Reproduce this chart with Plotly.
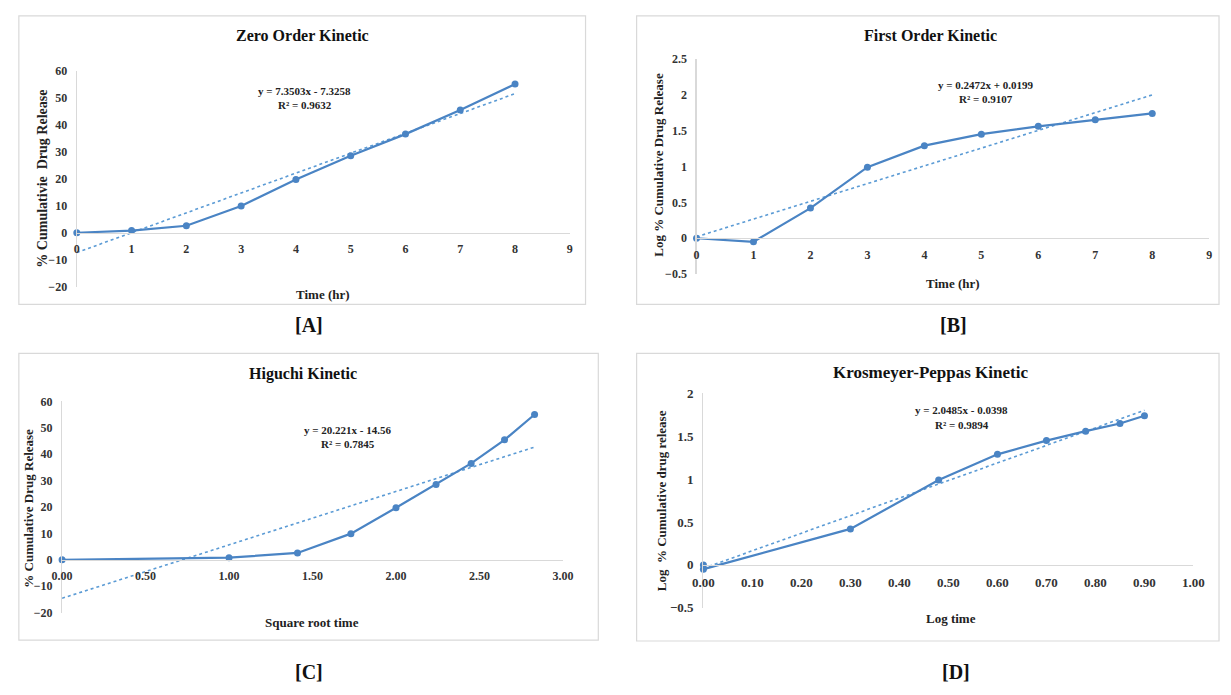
import plotly.graph_objects as go

# ---------------- data ----------------
time_hr = [0, 1, 2, 3, 4, 5, 6, 7, 8]
zero_order_release = [0.0, 0.8, 2.6, 9.9, 19.7, 28.5, 36.5, 45.4, 55.0]
first_order_log_release = [0.0, -0.05, 0.42, 0.99, 1.29, 1.45, 1.56, 1.65, 1.74]
sqrt_time = [0.00, 1.00, 1.41, 1.73, 2.00, 2.24, 2.45, 2.65, 2.83]
higuchi_release = [0.0, 0.8, 2.6, 9.9, 19.7, 28.5, 36.5, 45.4, 55.0]
log_time = [0.00, 0.00, 0.30, 0.48, 0.60, 0.70, 0.78, 0.85, 0.90]
kp_log_release = [0.0, -0.05, 0.42, 0.99, 1.29, 1.45, 1.56, 1.65, 1.74]

trend_slope = [7.3503, 0.2472, 20.221, 2.0485]
trend_intercept = [-7.3258, 0.0199, -14.56, -0.0398]
trend_eq = ["y = 7.3503x - 7.3258", "y = 0.2472x + 0.0199",
            "y = 20.221x - 14.56", "y = 2.0485x - 0.0398"]
trend_r2 = ["R² = 0.9632", "R² = 0.9107", "R² = 0.7845", "R² = 0.9894"]

titles = ["Zero Order Kinetic", "First Order Kinetic",
          "Higuchi Kinetic", "Krosmeyer-Peppas Kinetic"]
x_titles = ["Time (hr)", "Time (hr)", "Square root time", "Log time"]
y_titles = ["% Cumulativie  Drug Release", "Log % Cumulative Drug Release",
            "% Cumulative Drug Release", "Log  % Cumulative drug release"]
panel_tags = ["[A]", "[B]", "[C]", "[D]"]

xs = [time_hr, time_hr, sqrt_time, log_time]
ys = [zero_order_release, first_order_log_release, higuchi_release, kp_log_release]

# ---------------- layout geometry (pixels) ----------------
W, H = 1231, 695
def fx(p):
    return p / W
def fy(p):
    return 1 - p / H

panels = [
    dict(xpx=(67, 569), ypx=(286, 65), xr=[0, 9], yr=[-20, 60], xd=1, yd=10,
         xfmt="", box=(8, 9, 585, 304), title=(297, 29, 16), eq=(299, 86, 100),
         xt=(318, 294), yt=(32, 175, 14), tag=(303, 325), tick=12),
    dict(xpx=(698, 1220), ypx=(273, 53), xr=[0, 9], yr=[-0.5, 2.5], xd=1, yd=0.5,
         xfmt="", box=(637, 9, 1230, 304), title=(936, 29, 16), eq=(993, 80, 94),
         xt=(959, 283), yt=(659, 161, 13), tag=(960, 325), tick=12),
    dict(xpx=(52, 562), ypx=(619, 403), xr=[0, 3], yr=[-20, 60], xd=0.5, yd=10,
         xfmt=".2f", box=(8, 354, 598, 647), title=(297, 375, 16), eq=(343, 432, 447),
         xt=(306, 629), yt=(18, 512, 13), tag=(303, 680), tick=12),
    dict(xpx=(705, 1204), ypx=(614, 395), xr=[0, 1], yr=[-0.5, 2], xd=0.1, yd=0.5,
         xfmt=".2f", box=(637, 354, 1230, 648), title=(936, 374, 17), eq=(968, 412, 427),
         xt=(957, 625), yt=(662, 505, 13), tag=(962, 680), tick=13),
]

FONT = "Liberation Serif"
LINE_C = "#4a84c4"
TREND_C = "#5b9bd5"
AXIS_C = "#d9d9d9"
TICK_C = "#333333"

fig = go.Figure()
shapes = []
annotations = []
layout_axes = {}

for i, p in enumerate(panels):
    n = i + 1
    xa = "x" if n == 1 else f"x{n}"
    ya = "y" if n == 1 else f"y{n}"
    xkey = "xaxis" if n == 1 else f"xaxis{n}"
    ykey = "yaxis" if n == 1 else f"yaxis{n}"

    # trendline from fitted coefficients over the data's x span
    x_lo, x_hi = min(xs[i]), max(xs[i])
    fig.add_trace(go.Scatter(
        x=[x_lo, x_hi],
        y=[trend_slope[i] * x_lo + trend_intercept[i], trend_slope[i] * x_hi + trend_intercept[i]],
        mode="lines", line=dict(color=TREND_C, width=1.6, dash="dot"),
        xaxis=xa, yaxis=ya, showlegend=False, hoverinfo="skip"))
    fig.add_trace(go.Scatter(
        x=xs[i], y=ys[i], mode="lines+markers",
        line=dict(color=LINE_C, width=2.2),
        marker=dict(color=LINE_C, size=7),
        cliponaxis=False, xaxis=xa, yaxis=ya, showlegend=False))

    # y pixel of value 0 -> x axis position
    ybot, ytop = p["ypx"]
    y0px = ybot - (0 - p["yr"][0]) / (p["yr"][1] - p["yr"][0]) * (ybot - ytop)

    layout_axes[xkey] = dict(
        domain=[fx(p["xpx"][0]), fx(p["xpx"][1])], range=p["xr"],
        anchor="free", position=fy(y0px), dtick=p["xd"], tick0=0,
        tickformat=p["xfmt"], showgrid=False, zeroline=False,
        showline=True, linecolor=AXIS_C, linewidth=1.2,
        ticks="outside", ticklen=5, tickcolor="rgba(0,0,0,0)",
        tickfont=dict(family=FONT, size=p["tick"], color=TICK_C, weight="bold"))
    layout_axes[ykey] = dict(
        domain=[fy(p["ypx"][0]), fy(p["ypx"][1])], range=p["yr"],
        anchor=xa, dtick=p["yd"], tick0=0,
        showgrid=False, zeroline=False,
        showline=True, linecolor=AXIS_C, linewidth=1.2,
        ticks="outside", ticklen=6, tickcolor="rgba(0,0,0,0)",
        tickfont=dict(family=FONT, size=p["tick"], color=TICK_C, weight="bold"))

    bx0, by0, bx1, by1 = p["box"]
    shapes.append(dict(type="rect", xref="paper", yref="paper",
                       x0=fx(bx0), x1=fx(bx1), y0=fy(by1), y1=fy(by0),
                       line=dict(color=AXIS_C, width=1.2), fillcolor="rgba(0,0,0,0)",
                       layer="below"))

    def ann(text, x, y, size, color="#111111", angle=0):
        annotations.append(dict(text=text, x=fx(x), y=fy(y), xref="paper", yref="paper",
                                showarrow=False, xanchor="center", yanchor="middle",
                                textangle=angle,
                                font=dict(family=FONT, size=size, color=color, weight="bold")))

    tx, ty, ts = p["title"]
    ann(titles[i], tx, ty, ts)
    ex, ey1, ey2 = p["eq"]
    ann(trend_eq[i], ex, ey1, 11, "#222222")
    ann(trend_r2[i], ex, ey2, 11, "#222222")
    ann(x_titles[i], p["xt"][0], p["xt"][1], 13, "#222222")
    ann(y_titles[i], p["yt"][0], p["yt"][1], p["yt"][2], "#222222", angle=-90)
    ann(panel_tags[i], p["tag"][0], p["tag"][1], 20, "#111111")

fig.update_layout(
    width=W, height=H, margin=dict(l=0, r=0, t=0, b=0),
    paper_bgcolor="white", plot_bgcolor="white",
    shapes=shapes, annotations=annotations, showlegend=False,
    hovermode=False,
    **layout_axes)

fig.write_html("out.html",
               config={"displayModeBar": False, "staticPlot": True},
               post_script="document.body.style.margin='0';document.body.style.overflow='hidden';")
